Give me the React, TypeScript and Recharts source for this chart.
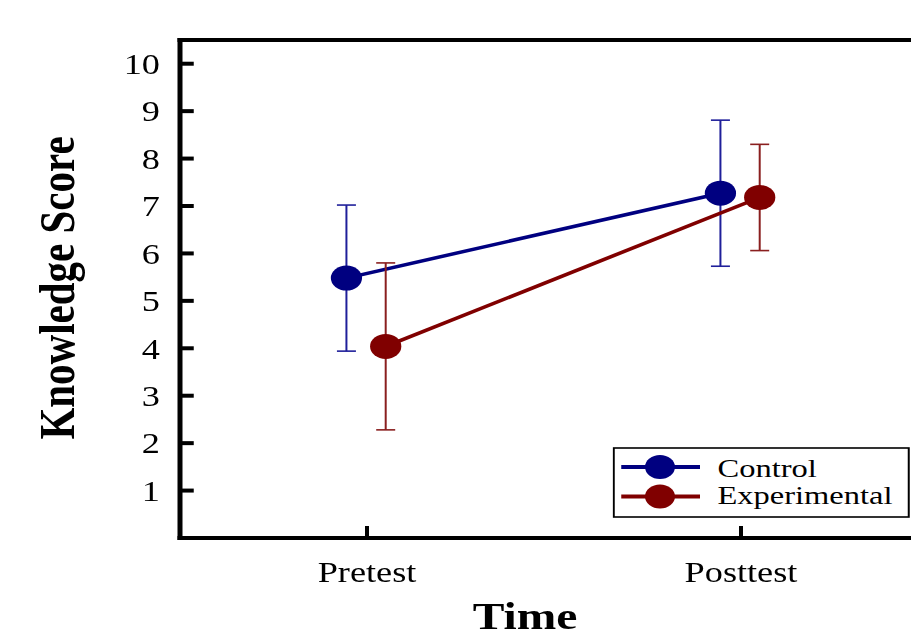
import { LineChart, Line, XAxis, YAxis, ErrorBar, Legend, ReferenceLine } from "recharts";

const categories = ["Pretest", "Posttest"];
const controlMeans = [5.48, 7.27];
const controlErrors = [1.54, 1.54];
const experimentalMeans = [4.04, 7.18];
const experimentalErrors = [1.76, 1.12];
const yTicks = [1, 2, 3, 4, 5, 6, 7, 8, 9, 10];

const FONT = "Liberation Serif, Times New Roman, serif";
// the original figure is stretched sideways, so the whole chart is scaled in x
const STRETCH = 1.25;

const series = [
  { name: "Control", means: controlMeans, errors: controlErrors, color: "#000080", barColor: "#1f1f9a", shift: -0.055 },
  { name: "Experimental", means: experimentalMeans, errors: experimentalErrors, color: "#800000", barColor: "#8a1f1f", shift: 0.05 },
];

const seriesData = series.map((s) =>
  categories.map((c, i) => ({ x: i + 1 + s.shift, category: c, mean: s.means[i], err: s.errors[i] }))
);

function LegendBox({ payload }: any) {
  const items = payload || [];
  return (
    <svg width={238} height={71} style={{ display: "block" }}>
      <rect x={1} y={1} width={236} height={69} fill="#fff" stroke="#000" strokeWidth={1.6} />
      {items.map((entry: any, i: number) => {
        const cy = 20 + i * 29.5;
        return (
          <g key={entry.value}>
            <line x1={7} x2={70} y1={cy} y2={cy} stroke={entry.color} strokeWidth={4} />
            <circle cx={38} cy={cy} r={12} fill={entry.color} />
            <text x={84} y={30 + i * 27.5} fontSize={26} fontFamily={FONT} fill="#000">
              {entry.value}
            </text>
          </g>
        );
      })}
    </svg>
  );
}

export default function App() {
  return (
    <div style={{ position: "fixed", left: 0, top: 0, width: 911, height: 636, overflow: "hidden", background: "#fff" }}>
      <div style={{ transform: `scaleX(${STRETCH})`, transformOrigin: "0 0", width: 760 }}>
        <LineChart width={760} height={636} margin={{ top: 40, right: 17.6, bottom: 0, left: 84 }}>
          <XAxis
            dataKey="x"
            type="number"
            domain={[0.5, 2.5]}
            ticks={[1, 2]}
            tickFormatter={(v) => categories[Math.round(v) - 1]}
            height={98}
            tickSize={-12}
            tickMargin={35}
            axisLine={{ stroke: "#000", strokeWidth: 4, strokeLinecap: "square" }}
            tickLine={{ stroke: "#000", strokeWidth: 3.2 }}
            tick={{ fill: "#000", fontSize: 29, fontFamily: FONT }}
            label={{
              content: () => (
                <text x={420} y={629} textAnchor="middle" fontSize={38} fontWeight="bold" fontFamily={FONT} fill="#000">
                  Time
                </text>
              ),
            }}
          />
          <YAxis
            type="number"
            domain={[0, 10.5]}
            ticks={yTicks}
            width={60}
            tickSize={-11}
            tickMargin={27}
            axisLine={{ stroke: "#000", strokeWidth: 4, strokeLinecap: "square" }}
            tickLine={{ stroke: "#000", strokeWidth: 4 }}
            tick={{ fill: "#000", fontSize: 29, fontFamily: FONT }}
            label={{
              content: () => (
                <text
                  x={59}
                  y={288}
                  transform="rotate(-90 59 288)"
                  textAnchor="middle"
                  fontSize={41}
                  fontWeight="bold"
                  fontFamily={FONT}
                  fill="#000"
                >
                  Knowledge Score
                </text>
              ),
            }}
          />
          <ReferenceLine y={10.5} stroke="#000" strokeWidth={4} strokeLinecap="square" />
          {series.map((s, idx) => (
            <Line
              key={s.name}
              data={seriesData[idx]}
              dataKey="mean"
              name={s.name}
              stroke={s.color}
              strokeWidth={3.5}
              dot={{ r: 12.5, fill: s.color, stroke: s.color, strokeWidth: 0 }}
              activeDot={false}
              isAnimationActive={false}
            >
              <ErrorBar dataKey="err" width={7.6} stroke={s.barColor} strokeWidth={1.6} isAnimationActive={false} />
            </Line>
          ))}
          <Legend
            layout="vertical"
            align="center"
            verticalAlign="middle"
            content={<LegendBox />}
            wrapperStyle={{ position: "absolute", left: 489.6, top: 447, width: 238, height: 71 }}
          />
        </LineChart>
      </div>
    </div>
  );
}
